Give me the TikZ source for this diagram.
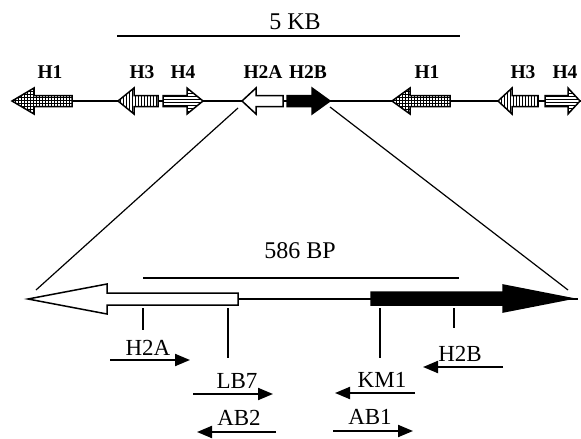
\documentclass[tikz,border=0pt]{standalone}
\usepackage{fontspec}
\setmainfont{Liberation Serif}
\usetikzlibrary{arrows.meta,patterns}
% block arrow: tail x, head-base x, tip x, y, body half height, head half height
\newcommand\blockarrow[7][]{%
  \draw[#1] (#2,#5-#6) -- (#3,#5-#6) -- (#3,#5-#7) -- (#4,#5)
    -- (#3,#5+#7) -- (#3,#5+#6) -- (#2,#5+#6) -- cycle;}
\tikzset{
  gene/.style={draw=black, line width=1.5pt, line join=miter, preaction={fill=white}},
  hone/.style={gene, pattern=grid},
  hthree/.style={gene, pattern=vertical lines},
  hfour/.style={gene, pattern=horizontal lines},
  htwoa/.style={gene, fill=white},
  htwob/.style={gene, fill=black},
  backbone/.style={line width=1.6pt},
  scalebar/.style={line width=2.4pt},
  zoomline/.style={line width=1.2pt},
  tick/.style={line width=2pt},
  primer/.style={line width=2pt, -{Triangle[length=15pt,width=12pt]}},
  boldlbl/.style={font=\fontsize{19.5}{22}\selectfont\bfseries, anchor=base, inner sep=0pt},
  lbl/.style={font=\fontsize{23}{26}\selectfont, anchor=base, inner sep=0pt},
  scalelbl/.style={font=\fontsize{24}{26}\selectfont, anchor=base, inner sep=0pt},
}
\begin{document}
\begin{tikzpicture}[x=1pt, y=-1pt]
\useasboundingbox (0,0) rectangle (581,439);

% ---------- 5 kb locus ----------
\node[scalelbl] (kb) at (295,29) {5 KB};
\draw[scalebar] (117,36) -- (460,36);

\draw[backbone] (72,101) -- (581,101);
\blockarrow[hone]{72}{34}{12}{101}{5.5}{13}
\blockarrow[hthree]{158}{134}{118}{101}{5.5}{13}
\blockarrow[hfour]{163}{187}{203}{101}{5.5}{13}
\blockarrow[htwoa]{283}{256}{242}{101}{5.5}{13}
\blockarrow[htwob]{287}{312}{330}{101}{5.5}{13}
\blockarrow[hone]{450}{410}{392}{101}{5.5}{13}
\blockarrow[hthree]{538}{512}{498}{101}{5.5}{13}
\blockarrow[hfour]{545}{568}{580}{101}{5.5}{13}

\node[boldlbl] (l1) at (50,78) {H1};
\node[boldlbl] (l3) at (142,78) {H3};
\node[boldlbl] (l4) at (183,78) {H4};
\node[boldlbl] (l2a) at (263,78) {H2A};
\node[boldlbl] (l2b) at (308,78) {H2B};
\node[boldlbl] (l1b) at (427,78) {H1};
\node[boldlbl] (l3b) at (523,78) {H3};
\node[boldlbl] (l4b) at (565,78) {H4};

% expansion lines
\coordinate (za) at (238,108);
\coordinate (zb) at (330,107);
\coordinate (zc) at (36,290);
\coordinate (zd) at (568,290);
\draw[zoomline] (za) -- (zc);
\draw[zoomline] (zb) -- (zd);

% ---------- 586 bp region ----------
\node[scalelbl] (bp) at (300,258) {586 BP};
\draw[scalebar, line width=2pt] (143,278) -- (459,278);

\draw[backbone] (28,299) -- (578,299);
\blockarrow[htwoa]{238}{107}{28}{299}{6}{15}
\blockarrow[htwob]{371}{503}{572}{298.5}{6.5}{13.5}

% primer positions
\coordinate (t1a) at (143,308); \coordinate (t1b) at (143,330);
\coordinate (t2a) at (228,308); \coordinate (t2b) at (228,358);
\coordinate (t3a) at (380,308); \coordinate (t3b) at (380,358);
\coordinate (t4a) at (454,308); \coordinate (t4b) at (454,328);
\draw[tick] (t1a) -- (t1b);
\draw[tick] (t2a) -- (t2b);
\draw[tick] (t3a) -- (t3b);
\draw[tick] (t4a) -- (t4b);

% primers
\coordinate (pa1) at (110,360); \coordinate (pa2) at (190,360);
\coordinate (pb1) at (193,394); \coordinate (pb2) at (273,394);
\coordinate (pc1) at (276,432); \coordinate (pc2) at (197,432);
\coordinate (pd1) at (503,367); \coordinate (pd2) at (423,367);
\coordinate (pe1) at (415,393); \coordinate (pe2) at (335,393);
\coordinate (pf1) at (333,431); \coordinate (pf2) at (413,431);
\draw[primer] (pa1) -- (pa2);
\draw[primer] (pb1) -- (pb2);
\draw[primer] (pc1) -- (pc2);
\draw[primer] (pd1) -- (pd2);
\draw[primer] (pe1) -- (pe2);
\draw[primer] (pf1) -- (pf2);

\node[lbl] (nh2a) at (148,355) {H2A};
\node[lbl] (nlb7) at (237,388) {LB7};
\node[lbl] (nab2) at (239,425) {AB2};
\node[lbl] (nh2b) at (460,361) {H2B};
\node[lbl] (nkm1) at (382,387) {KM1};
\node[lbl] (nab1) at (370,424) {AB1};
\end{tikzpicture}
\end{document}
